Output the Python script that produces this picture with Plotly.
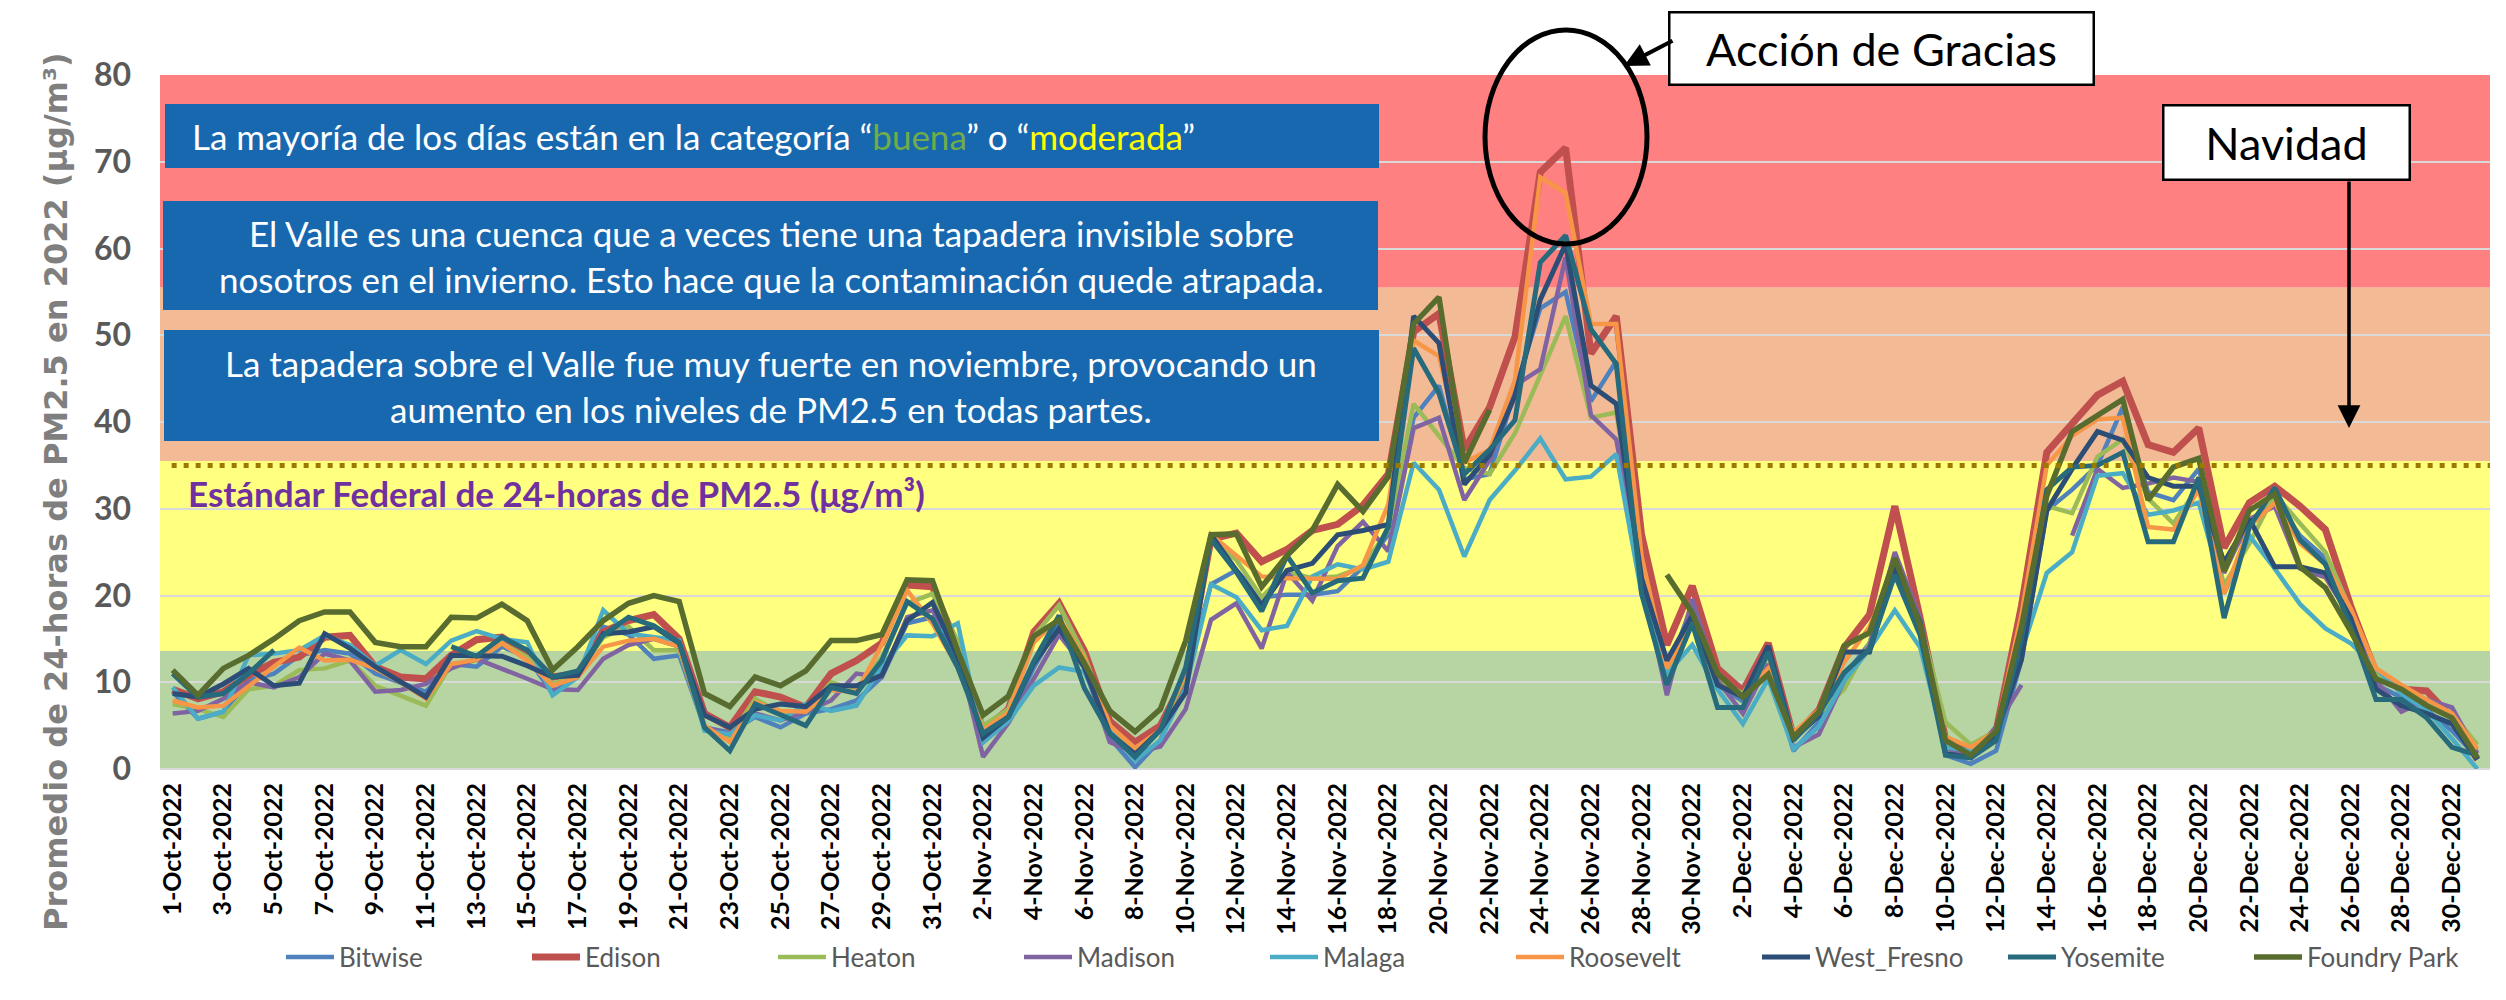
import plotly.graph_objects as go
import pandas as pd

# ---------------- data ----------------
dates = [d.strftime("%-d-%b-%Y") for d in pd.date_range("2022-10-01", "2022-12-31")]
N = None

bitwise = [8.9, 5.8, 6.6, 10.2, 11, 13.1, 13.7, 13.3, 11, 10, 8.9, 12.1, 11.8, 14.1, 12.9, 8.7, 11, 16.4, 15.5, 12.7, 13.1, 4.8, 4.2, 6, 4.8, 6.4, 6.9, 7.9, 10.6, 16.8, 17.5,
           12.4, 3.1, 5.5, 11.7, 16.7, 12.4, 3.6, 0.2, 3.3, 10.5, 21.3, 22.9, 19.8, 20.1, 20.1, 20.5, 23.3, 27, 40.5, 44.2, 33.4, 34, 43.6, 53.1, 55, 42.4, 47, 21.1, 11, 19,
           9.7, 7.8, 11.6, 2.1, 5.4, 10.7, 14.5, 23.6, 16.9, 1.6, 0.6, 2.1, 12.6, 29.8, 32.2, 35, 41.7, 31.9, 31, 34.6, 23.6, 27.9, 31.2, 26.9, 24.3, 17.8, 9.7, 8.3, 6.8, 4.4, 1.3]
edison = [9.2, 8.1, 8.9, 10.8, 12.3, 12.9, 15.2, 15.4, 11.8, 10.6, 10.4, 13.1, 14.9, 15.2, 13.3, 10.6, 11, 15.8, 17.1, 17.8, 15, 6.4, 4.8, 8.9, 8.3, 7.1, 11, 12.5, 14.5, 21.2, 21,
          14.1, 4.5, 6.9, 15.8, 19.1, 13.6, 5.5, 3.1, 5, 10.8, 26.5, 27.2, 23.9, 25.3, 27.5, 28.2, 30.4, 34, 50.4, 52.5, 36.8, 41.7, 49.8, 68.8, 71.6, 47.9, 52.2, 27, 14.3, 21.1,
          11.6, 9, 14.5, 3.7, 6.8, 14, 17.8, 30.3, 17.4, 3.5, 2.1, 4.4, 18.8, 36.5, 39.8, 43.1, 44.7, 37.4, 36.5, 39.3, 25.5, 30.7, 32.6, 30.3, 27.6, 18.8, 11.1, 9.2, 9, 5.9, 1.1]
heaton = [7.5, 6.9, 6, 9.2, 9.6, 11.4, 11.6, 12.5, 9.6, 8.5, 7.3, 12.1, 12.5, 14.5, 12.9, 9.8, 10.8, 15.2, 16.4, 13.7, 13.7, 4.8, 3.7, 8.1, 6.4, 6.6, 10, 9.1, 12.9, 19.1, 20.2,
          14.8, 5, 6.9, 15.3, 18.9, 13.1, 5, 2.1, 4.5, 10.8, 26.5, 24.1, 19.8, 22.7, 22, 22.2, 23.3, 27.6, 42.1, 38.4, 34.7, 34, 38.7, 45.4, 52.2, 40.5, 41.1, 23.3, 10.3, 17.7,
          10.2, 8.7, 13, 4, 6.4, 9.2, 14.5, 23.8, 16.9, 5.4, 2.8, 4.4, 14, 30.3, 29.5, 36, 38, 31.2, 28.3, 32.6, 21.2, 26, 31.7, 28.3, 25, 18.3, 11.1, 9, 7.8, 6.4, 2.8]
madison = [6.4, 6.7, 8.1, 10, 9.4, 10.6, 13.3, 12.5, 8.9, 9.1, 9.8, 11.6, 12.7, 11.6, 10.4, 9.2, 9.1, 12.7, 14.3, 15, 14.1, 4.8, 4, 6.4, 5.6, 6.6, 7.9, 11, 10.6, 17.5, 18.3,
           13.6, 1.4, 5.3, 10.3, 15.5, 11.7, 3.1, 1.9, 2.6, 6.9, 17.2, 19.1, 13.9, 22.7, 19.4, 25.7, 28.5, 25.1, 39.3, 40.5, 31, 35.6, 44.2, 46.1, 59, 40.8, 38, 22, 8.5, 19.6,
           10.2, 6.4, 12.1, 2.5, 4, 10.2, 14.2, 25, 17.4, 2.5, 1.3, 4.9, 9.7, N, 26.9, 34.6, 32.4, 32.9, 33.6, 33.1, 22.6, 28.8, 30.3, 23.1, 22.1, 17.4, 10.2, 6.6, 8, 7.1, 1.8]
malaga = [9.4, 5.8, 6.6, 13.1, 13.3, 13.7, 15.4, 14.3, 11.9, 13.7, 12.1, 14.8, 15.9, 15, 14.6, 8.5, 10.6, 18.3, 15.6, 15.2, 14.8, 4.4, 4, 6.2, 5.6, 7.5, 6.7, 7.3, 11.8, 15.4, 15.3,
          16.8, 3.1, 5.5, 9.6, 11.7, 11.2, 4.5, 1, 3.3, 9.3, 21.3, 19.8, 16, 16.5, 22.2, 23.6, 23, 23.9, 35.3, 32.2, 24.5, 31, 34.4, 38.1, 33.4, 33.7, 36.3, 20.2, 11, 14.3,
          9.2, 5.2, 10.4, 2.3, 4.9, 10.2, 13.8, 18.3, 14, 2.5, 2.1, 3.5, 13.5, 22.6, 25, 33.8, 34.1, 29.3, 29.8, 30.7, 20.2, 26.9, 23.1, 19, 16.2, 14.5, 11.6, 8.7, 6.8, 3.5, 0]
roosevelt = [7.9, 7.1, 7.3, 9.6, 11.8, 14, 12.5, 12.6, 11.6, 10, 8.1, 12.1, 12.6, 14.5, 12.5, 9.6, 10.6, 14.1, 14.8, 15, 14.1, 5, 3.1, 7.7, 6.7, 6.6, 9.1, 8.9, 14.3, 20.6, 16.8,
             11.7, 4.5, 6.5, 14.6, 17.4, 12.7, 5, 2.4, 4.5, 11.2, 27, 24.6, 22.2, 22, 22, 21.9, 23.5, 30.5, 49.4, 47.6, 35.3, 36.8, 44.8, 68.2, 66.4, 51.3, 51.3, 24.5, 11.6, 17.1,
             9.7, 8.5, 11.6, 4.2, 6.8, 12.3, 16.4, 23.1, 16.4, 3.7, 2.5, 4.4, 17.8, 35, 38.4, 40.3, 40.5, 27.9, 27.6, 32.2, 20.2, 27.9, 30.7, 26, 23.6, 18.5, 11.6, 9.7, 8, 6.4, 2.3]
west_fresno = [8.7, 8.3, 9.8, 11.6, 9.6, 9.9, 15.6, 13.9, 11.8, 10, 8.3, 13.1, 13, 13, 11.9, 10.6, 10.8, 15.6, 15.8, 16.4, 14.5, 6.2, 4.8, 6.9, 7.5, 7.2, 9.6, 9.6, 10.8, 17.1, 19.2,
               12.9, 3.6, 6, 12.2, 16.2, 11.7, 4.1, 1.7, 4.5, 8.8, 27, 22.9, 18.9, 22.9, 23.7, 27, 27.5, 28.2, 52.2, 49.1, 32.8, 36.2, 43, 54.1, 60.5, 44.2, 42.1, 22, 12.5, 17.7,
               9.7, 8.3, 14.2, 3.5, 6.1, 13.5, 13.5, 23.3, 16.9, 1.8, 1.3, 4, 12.6, 29.8, 34.6, 38.9, 37.9, 33.6, 32.6, 32.6, 23.8, 28.8, 23.3, 23.3, 22.6, 17.4, 9.2, 7.3, 6.4, 5.2, 1.1]
yosemite = [11, 8.3, 8.7, 11, 13.7, N, N, N, N, N, N, 14.1, 13, 15.2, 13.7, 10.6, 11.3, 15.4, 17.5, 16.5, 14.6, 4.8, 2.1, 7.5, 6.2, 5, 9.4, 8.7, 12.5, 19.3, 17.3,
            11.7, 4.1, 6, 12.4, 17.7, 9.3, 4.1, 1.4, 4.5, 11.7, 26.5, 22.7, 18.2, 24.6, 20.3, 21.7, 22, 27.9, 48.5, 43.3, 34, 36.8, 40.2, 58.4, 61.5, 50.7, 46.7, 20.2, 9.7, 16.8,
            7.1, 7.1, 13.5, 3.3, 6.4, 11.1, 13.8, 22.4, 15.4, 1.6, 1.3, 3.3, 15, 32.2, 34.8, 35, 36.5, 26.2, 26.2, 33.6, 17.4, 27.9, 32.4, 26.4, 23.6, 16.4, 8, 8, 5.9, 2.5, 1.6]
foundry_park = [11.4, 8.5, 11.6, 13.1, 15, 17.1, 18.1, 18.1, 14.6, 14.1, 14.1, 17.5, 17.4, 19, 17.1, 11.4, 14.1, 17.1, 19.1, 20, 19.3, 8.7, 7.2, 10.6, 9.6, 11.3, 14.8, 14.8, 15.5, 21.8, 21.7,
                13.6, 6.2, 8.4, 15.3, 17.2, 12.2, 6.7, 4.3, 6.9, 14.8, 27, 27.1, 21, 24.6, 27.5, 32.8, 29.7, 33.7, 51.3, 54.4, 35.3, 41.4, N, N, N, N, N, N, 22.4, 18,
                11, 8.3, 10.9, 3.7, 6.6, 14.2, 15.7, 24.3, 16.6, 3.3, 1.6, 4.4, 16.4, 31.5, 38.9, 40.8, 42.6, 31, 34.8, 35.8, 22.8, 29.8, 31.7, 23.3, 20.9, 15.9, 10.4, 9.2, 7.3, 5.9, 1.3]

series_names = ["Bitwise", "Edison", "Heaton", "Madison", "Malaga", "Roosevelt", "West_Fresno", "Yosemite", "Foundry Park"]
series_values = [bitwise, edison, heaton, madison, malaga, roosevelt, west_fresno, yosemite, foundry_park]
series_colors = ["#4F81BD", "#C0504D", "#9BBB59", "#8064A2", "#4BACC6", "#F79646", "#2C4D75", "#276A7C", "#576C2E"]
series_widths = [4.5, 7, 4.5, 4.5, 4.5, 4.5, 5, 5, 5.5]

y_ticks = [0, 10, 20, 30, 40, 50, 60, 70, 80]
bands = [(0, 13.6, "#B6D5A2"), (13.6, 35.5, "#FFFF80"), (35.5, 55.5, "#F3BA96"), (55.5, 80, "#FF8080")]
standard = 35

# ---------------- layout helpers (pixel -> paper) ----------------
W, H = 2506, 1000
L, R, T, B = 152, 2482, 67, 761
def px(x):
    return (x - L) / (R - L)
def py(y):
    return (B - y) / (B - T)

fig = go.Figure()
for name, vals, col, w in zip(series_names, series_values, series_colors, series_widths):
    fig.add_trace(go.Scatter(x=dates, y=vals, name=name, mode="lines",
                             line=dict(color=col, width=w), connectgaps=False))

shapes = []
for y0, y1, c in bands:
    shapes.append(dict(type="rect", xref="paper", yref="y", x0=0, x1=1, y0=y0, y1=y1,
                       fillcolor=c, line=dict(width=0), layer="below"))
shapes.append(dict(type="line", xref="paper", yref="y", x0=0.005, x1=1, y0=standard, y1=standard,
                   line=dict(color="#9C7A00", width=5, dash="5px,7px"), layer="above"))
# blue text boxes
for (x0, y0, x1, y1) in [(157, 96, 1371, 160), (155, 193, 1370, 302), (156, 322, 1371, 433)]:
    shapes.append(dict(type="rect", xref="paper", yref="paper", x0=px(x0), x1=px(x1), y0=py(y1), y1=py(y0),
                       fillcolor="#1868B0", line=dict(width=0), layer="above"))
# ellipse around Thanksgiving peak
shapes.append(dict(type="circle", xref="paper", yref="paper", x0=px(1477), x1=px(1639), y0=py(236), y1=py(22),
                   line=dict(color="black", width=5), layer="above"))

box_font = dict(family="Lato", size=35, color="white")
annotations = [
    dict(xref="paper", yref="paper", x=px(182), y=py(128), xanchor="left", yanchor="middle", showarrow=False,
         text='La mayoría de los días están en la categoría “<span style="color:#70AD47">buena</span>” o “<span style="color:#FFFF00">moderada</span>”',
         font=box_font),
    dict(xref="paper", yref="paper", x=px(763), y=py(248), xanchor="center", yanchor="middle", showarrow=False, align="center",
         text="El Valle es una cuenca que a veces tiene una tapadera invisible sobre<br>nosotros en el invierno. Esto hace que la contaminación quede atrapada.",
         font=box_font),
    dict(xref="paper", yref="paper", x=px(763), y=py(378), xanchor="center", yanchor="middle", showarrow=False, align="center",
         text="La tapadera sobre el Valle fue muy fuerte en noviembre, provocando un<br>aumento en los niveles de PM2.5 en todas partes.",
         font=box_font),
    dict(xref="paper", yref="paper", x=px(178), y=py(485), xanchor="left", yanchor="middle", showarrow=False,
         text="<b>Estándar Federal de 24-horas de PM2.5 (μg/m³)</b>",
         font=dict(family="Lato", size=35, color="#7030A0")),
    dict(xref="paper", yref="paper", x=px(48), y=py(484), xanchor="center", yanchor="middle", showarrow=False, textangle=-90,
         text="<b>Promedio de 24-horas de PM2.5 en 2022 (μg/m³)</b>",
         font=dict(family="DejaVu Sans", size=32, color="#7F7F7F")),
    # holiday boxes
    dict(xref="paper", yref="paper", x=px(1873), y=py(40), xanchor="center", yanchor="middle", showarrow=False,
         text="Acción de Gracias", font=dict(family="Lato", size=45, color="black"),
         bgcolor="white", bordercolor="black", borderwidth=2.5, borderpad=0, width=422, height=70),
    dict(xref="paper", yref="paper", x=px(2278), y=py(134), xanchor="center", yanchor="middle", showarrow=False,
         text="Navidad", font=dict(family="Lato", size=45, color="black"),
         bgcolor="white", bordercolor="black", borderwidth=2.5, borderpad=0, width=244, height=72),
    # arrows
    dict(xref="paper", yref="paper", x=px(1616), y=py(58), ax=50, ay=-26, text="", showarrow=True,
         arrowhead=2, arrowsize=1.2, arrowwidth=4, arrowcolor="black", standoff=0),
    dict(xref="paper", yref="paper", x=px(2341), y=py(420), ax=0, ay=-248, text="", showarrow=True,
         arrowhead=2, arrowsize=1.3, arrowwidth=3.5, arrowcolor="black", standoff=0),
]

fig.update_layout(
    width=W, height=H,
    margin=dict(l=L, r=W - R, t=T, b=H - B),
    paper_bgcolor="white", plot_bgcolor="white",
    shapes=shapes, annotations=annotations,
    showlegend=True,
    legend=dict(orientation="h", x=px(1380), y=py(949), xanchor="center", yanchor="middle",
                font=dict(family="Lato", size=26, color="#595959"), entrywidth=183, itemwidth=48,
                bgcolor="rgba(0,0,0,0)"),
    xaxis=dict(type="category", tickvals=dates[::2], ticktext=dates[::2], tickangle=-90,
               tickfont=dict(family="Lato", size=25, color="black", weight="bold"),
               showgrid=False, ticks="", showline=False, ticklabelstandoff=8,
               range=[-0.5, len(dates) - 0.5]),
    yaxis=dict(range=[0, 80], tickvals=y_ticks, showgrid=True, gridcolor="#D9D9D9", gridwidth=2,
               zeroline=True, zerolinecolor="#D9D9D9", zerolinewidth=2,
               tickfont=dict(family="Lato", size=32, color="#595959", weight="bold"),
               ticks="", ticklabelstandoff=28),
)

fig.write_html("out.html")
